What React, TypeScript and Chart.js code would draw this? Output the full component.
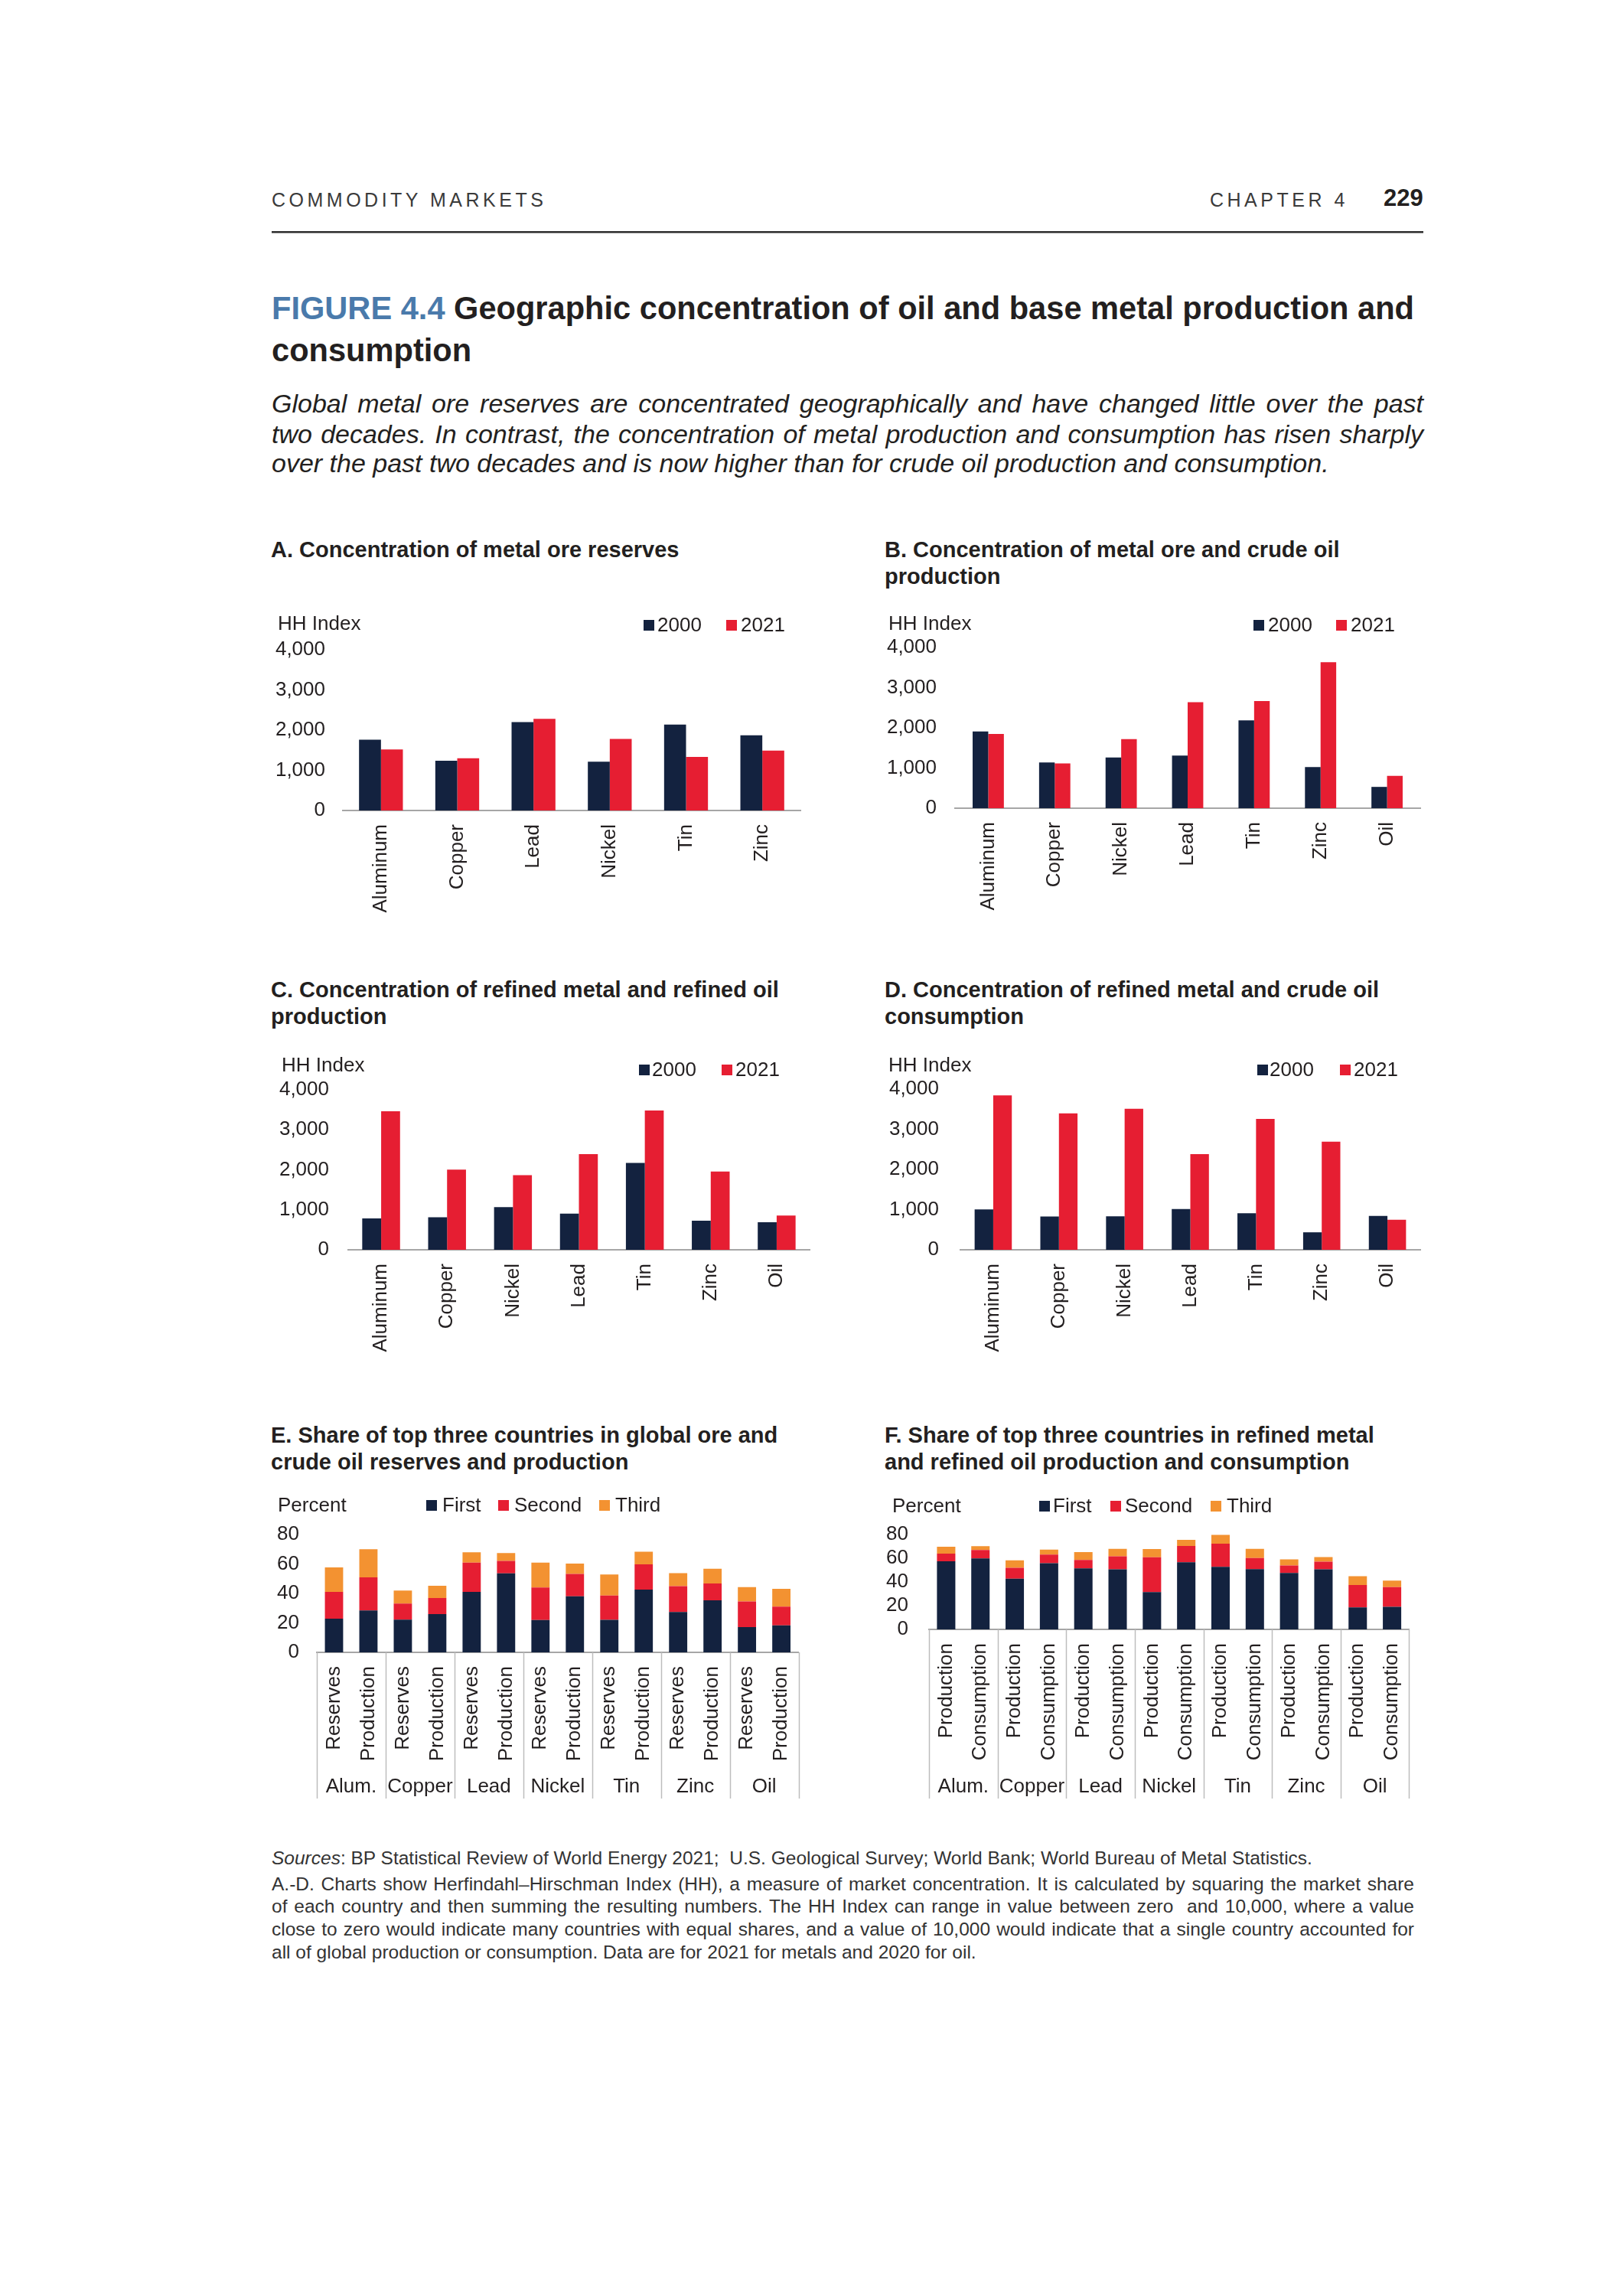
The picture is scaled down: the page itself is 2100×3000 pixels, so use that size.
import React, { useEffect, useRef } from "react";
import { Chart, registerables } from "chart.js";

Chart.register(...registerables);

const FONT = "'Liberation Sans', Arial, Helvetica, sans-serif";
const TEXT = "#231f20";
const NAVY = "#13223f";
const RED = "#e61e32";
const ORANGE = "#f39231";
const AXIS = "#a6a6a6";
const SEP = "#bdbdbd";
const BLUE = "#4a7aab";

// ---------- DATA ----------
const catsA = ["Aluminum", "Copper", "Lead", "Nickel", "Tin", "Zinc"];
const a2000 = [1760, 1240, 2200, 1215, 2140, 1870];
const a2021 = [1520, 1300, 2280, 1780, 1335, 1490];

const catsB = ["Aluminum", "Copper", "Nickel", "Lead", "Tin", "Zinc", "Oil"];
const b2000 = [1910, 1140, 1260, 1310, 2185, 1025, 530];
const b2021 = [1850, 1115, 1720, 2640, 2665, 3635, 805];

const catsC = ["Aluminum", "Copper", "Nickel", "Lead", "Tin", "Zinc", "Oil"];
const c2000 = [785, 815, 1065, 905, 2170, 725, 690];
const c2021 = [3465, 2005, 1865, 2390, 3485, 1955, 855];

const catsD = ["Aluminum", "Copper", "Nickel", "Lead", "Tin", "Zinc", "Oil"];
const d2000 = [1005, 830, 835, 1015, 910, 435, 845];
const d2021 = [3845, 3395, 3510, 2380, 3255, 2690, 750];

const hhMax = 4000;
const hhStep = 1000;
const yearSeries = ["2000", "2021"];

const groupsEF = ["Alum.", "Copper", "Lead", "Nickel", "Tin", "Zinc", "Oil"];
const subE = ["Reserves", "Production"];
const subF = ["Production", "Consumption"];

const eFirst = [22.8, 28.4, 22.2, 26.0, 41.0, 53.6, 21.9, 38.1, 22.1, 42.6, 27.4, 35.3, 17.2, 18.3];
const eSecond = [18.2, 22.5, 10.9, 10.9, 19.9, 8.5, 22.1, 15.2, 16.5, 17.2, 17.6, 11.4, 17.3, 12.7];
const eThird = [16.6, 19.1, 8.8, 8.3, 7.0, 5.3, 16.9, 7.0, 14.3, 8.5, 8.8, 10.0, 9.8, 12.1];

const fFirst = [57.5, 59.9, 42.8, 55.8, 51.5, 50.6, 31.4, 56.6, 52.8, 50.8, 47.6, 50.6, 18.6, 19.0];
const fSecond = [6.3, 7.1, 9.1, 7.3, 7.1, 11.0, 29.4, 13.7, 19.4, 9.3, 6.2, 6.5, 18.8, 16.7];
const fThird = [5.8, 3.1, 6.3, 4.1, 6.5, 6.3, 6.9, 5.2, 7.4, 7.8, 5.2, 3.9, 7.4, 5.4];

const pctMax = 80;
const pctStep = 20;
const rankSeries = ["First", "Second", "Third"];

const labelsE = groupsEF.flatMap(() => subE);
const labelsF = groupsEF.flatMap(() => subF);

// ---------- CHART HELPERS ----------
type PanelSpec = {
  left: number;
  top: number;
  width: number;
  height: number;
  yW: number;
  xH: number;
  padTop: number;
  padRight: number;
  tickPad: number;
  labels: string[];
  datasets: { label: string; data: number[]; color: string }[];
  yMax: number;
  yStep: number;
  stacked: boolean;
  catPct: number;
  barPct: number;
  groups?: string[];
  per?: number;
  sepLen?: number;
  groupOffset?: number;
};

function groupPlugin(groups: string[], per: number, sepLen: number, groupOffset: number) {
  return {
    id: "groupAxis",
    afterDraw(chart: any) {
      const { ctx, chartArea, scales } = chart;
      const xs = scales.x;
      const half = (xs.getPixelForValue(1) - xs.getPixelForValue(0)) / 2;
      ctx.save();
      ctx.strokeStyle = SEP;
      ctx.lineWidth = 1.5;
      for (let g = 0; g <= groups.length; g++) {
        const x =
          g < groups.length
            ? xs.getPixelForValue(g * per) - half
            : xs.getPixelForValue(groups.length * per - 1) + half;
        ctx.beginPath();
        ctx.moveTo(Math.round(x) + 0.5, chartArea.bottom);
        ctx.lineTo(Math.round(x) + 0.5, chartArea.bottom + sepLen);
        ctx.stroke();
      }
      ctx.fillStyle = TEXT;
      ctx.font = `26px ${FONT}`;
      ctx.textAlign = "center";
      ctx.textBaseline = "middle";
      groups.forEach((name, i) => {
        const cx = (xs.getPixelForValue(i * per) + xs.getPixelForValue(i * per + per - 1)) / 2;
        ctx.fillText(name, cx, chartArea.bottom + groupOffset);
      });
      ctx.restore();
    },
  };
}

function BarPanel({ spec }: { spec: PanelSpec }) {
  const ref = useRef<HTMLCanvasElement | null>(null);
  useEffect(() => {
    if (!ref.current) return;
    const p = spec;
    const chart = new Chart(ref.current, {
      type: "bar",
      data: {
        labels: p.labels,
        datasets: p.datasets.map((d) => ({
          label: d.label,
          data: d.data,
          backgroundColor: d.color,
          borderWidth: 0,
          categoryPercentage: p.catPct,
          barPercentage: p.barPct,
        })),
      },
      options: {
        responsive: false,
        maintainAspectRatio: false,
        animation: false,
        devicePixelRatio: 1,
        layout: { padding: { top: p.padTop, right: p.padRight, left: 0, bottom: 0 } },
        plugins: {
          legend: { display: false },
          tooltip: { enabled: false },
          title: { display: false },
        },
        scales: {
          x: {
            stacked: p.stacked,
            grid: { display: false, drawTicks: false },
            border: { display: true, color: AXIS, width: 2 },
            ticks: {
              autoSkip: false,
              minRotation: 90,
              maxRotation: 90,
              padding: 18,
              color: TEXT,
              font: { family: FONT, size: 26 },
            },
            afterFit: (s: any) => {
              s.height = p.xH;
            },
          },
          y: {
            stacked: p.stacked,
            min: 0,
            max: p.yMax,
            grid: { display: false, drawTicks: false },
            border: { display: false },
            ticks: {
              autoSkip: false,
              stepSize: p.yStep,
              padding: p.tickPad,
              color: TEXT,
              font: { family: FONT, size: 26 },
              callback: (v: any) => Number(v).toLocaleString("en-US"),
            },
            afterFit: (s: any) => {
              s.width = p.yW;
            },
          },
        },
      } as any,
      plugins: p.groups ? [groupPlugin(p.groups, p.per || 2, p.sepLen || 0, p.groupOffset || 0)] : [],
    });
    return () => chart.destroy();
  }, []);
  return (
    <canvas
      ref={ref}
      width={spec.width}
      height={spec.height}
      style={{ position: "absolute", left: spec.left, top: spec.top, width: spec.width, height: spec.height }}
    />
  );
}

// ---------- TEXT HELPERS ----------
function T(props: {
  x: number;
  y: number;
  size: number;
  children: React.ReactNode;
  bold?: boolean;
  italic?: boolean;
  color?: string;
  ls?: number;
  width?: number;
  justify?: boolean;
}) {
  const lh = props.size * 1.2;
  return (
    <div
      style={{
        position: "absolute",
        left: props.x,
        top: props.y - lh / 2,
        fontSize: props.size,
        lineHeight: `${lh}px`,
        height: lh,
        fontWeight: props.bold ? 700 : 400,
        fontStyle: props.italic ? "italic" : "normal",
        color: props.color || TEXT,
        letterSpacing: props.ls || 0,
        whiteSpace: "nowrap",
        width: props.width,
        textAlign: props.justify ? ("justify" as any) : "left",
        textAlignLast: props.justify ? ("justify" as any) : "auto",
      }}
    >
      {props.children}
    </div>
  );
}

function Sq({ x, y, color }: { x: number; y: number; color: string }) {
  return <div style={{ position: "absolute", left: x, top: y - 7, width: 14, height: 14, background: color }} />;
}

function Legend({ items, y }: { items: { sq: number; tx: number; label: string; color: string }[]; y: number }) {
  return (
    <>
      {items.map((it) => (
        <React.Fragment key={it.label}>
          <Sq x={it.sq} y={y} color={it.color} />
          <T x={it.tx} y={y} size={26}>
            {it.label}
          </T>
        </React.Fragment>
      ))}
    </>
  );
}

// ---------- PANELS ----------
const yearColors = [NAVY, RED];
const rankColors = [NAVY, RED, ORANGE];

const specA: PanelSpec = {
  left: 340, top: 804, width: 726, height: 395, yW: 108, xH: 140, padTop: 45, padRight: 20, tickPad: 23,
  labels: catsA,
  datasets: [
    { label: yearSeries[0], data: a2000, color: yearColors[0] },
    { label: yearSeries[1], data: a2021, color: yearColors[1] },
  ],
  yMax: hhMax, yStep: hhStep, stacked: false, catPct: 0.575, barPct: 1,
};

const specB: PanelSpec = {
  left: 1140, top: 801, width: 736, height: 395, yW: 108, xH: 140, padTop: 45, padRight: 20, tickPad: 24,
  labels: catsB,
  datasets: [
    { label: yearSeries[0], data: b2000, color: yearColors[0] },
    { label: yearSeries[1], data: b2021, color: yearColors[1] },
  ],
  yMax: hhMax, yStep: hhStep, stacked: false, catPct: 0.47, barPct: 1,
};

const specC: PanelSpec = {
  left: 340, top: 1379, width: 738, height: 394, yW: 115, xH: 140, padTop: 45, padRight: 20, tickPad: 25,
  labels: catsC,
  datasets: [
    { label: yearSeries[0], data: c2000, color: yearColors[0] },
    { label: yearSeries[1], data: c2021, color: yearColors[1] },
  ],
  yMax: hhMax, yStep: hhStep, stacked: false, catPct: 0.574, barPct: 1,
};

const specD: PanelSpec = {
  left: 1140, top: 1378, width: 736, height: 395, yW: 115, xH: 140, padTop: 45, padRight: 20, tickPad: 28,
  labels: catsD,
  datasets: [
    { label: yearSeries[0], data: d2000, color: yearColors[0] },
    { label: yearSeries[1], data: d2021, color: yearColors[1] },
  ],
  yMax: hhMax, yStep: hhStep, stacked: false, catPct: 0.566, barPct: 1,
};

const specE: PanelSpec = {
  left: 340, top: 1960, width: 731, height: 399, yW: 74, xH: 200, padTop: 45, padRight: 20, tickPad: 23,
  labels: labelsE,
  datasets: [
    { label: rankSeries[0], data: eFirst, color: rankColors[0] },
    { label: rankSeries[1], data: eSecond, color: rankColors[1] },
    { label: rankSeries[2], data: eThird, color: rankColors[2] },
  ],
  yMax: pctMax, yStep: pctStep, stacked: true, catPct: 1, barPct: 0.53,
  groups: groupsEF, per: 2, sepLen: 191, groupOffset: 176,
};

const specF: PanelSpec = {
  left: 1140, top: 1960, width: 729, height: 399, yW: 74, xH: 230, padTop: 45, padRight: 20, tickPad: 27,
  labels: labelsF,
  datasets: [
    { label: rankSeries[0], data: fFirst, color: rankColors[0] },
    { label: rankSeries[1], data: fSecond, color: rankColors[1] },
    { label: rankSeries[2], data: fThird, color: rankColors[2] },
  ],
  yMax: pctMax, yStep: pctStep, stacked: true, catPct: 1, barPct: 0.536,
  groups: groupsEF, per: 2, sepLen: 221, groupOffset: 206,
};

export default function App() {
  return (
    <div
      style={{
        position: "absolute",
        left: 0,
        top: 0,
        width: 2100,
        height: 3000,
        background: "#ffffff",
        fontFamily: FONT,
        color: TEXT,
        overflow: "hidden",
      }}
    >
      {/* charts (below text) */}
      <BarPanel spec={specA} />
      <BarPanel spec={specB} />
      <BarPanel spec={specC} />
      <BarPanel spec={specD} />
      <BarPanel spec={specE} />
      <BarPanel spec={specF} />

      {/* running header */}
      <T x={355} y={261} size={25} ls={4.5} color="#3a3a3a">COMMODITY MARKETS</T>
      <T x={1581} y={261} size={25} ls={4.5} color="#3a3a3a">CHAPTER 4</T>
      <T x={1808} y={259} size={31} bold>229</T>
      <div style={{ position: "absolute", left: 355, top: 302, width: 1505, height: 2, background: "#2b2b2b" }} />
      <div style={{ position: "absolute", left: 355, top: 304, width: 1505, height: 1, background: "#9a9a9a" }} />

      {/* figure title */}
      <T x={355} y={403} size={41.6} bold>
        <span style={{ color: BLUE }}>FIGURE 4.4</span> Geographic concentration of oil and base metal production and
      </T>
      <T x={355} y={458} size={41.6} bold>consumption</T>

      {/* subtitle */}
      <T x={355} y={527} size={34} italic width={1505} justify>
        Global metal ore reserves are concentrated geographically and have changed little over the past
      </T>
      <T x={355} y={567} size={34} italic width={1505} justify>
        two decades. In contrast, the concentration of metal production and consumption has risen sharply
      </T>
      <T x={355} y={605} size={34} italic>
        over the past two decades and is now higher than for crude oil production and consumption.
      </T>

      {/* panel A */}
      <T x={354} y={718} size={29} bold>A. Concentration of metal ore reserves</T>
      <T x={363} y={815} size={26}>HH Index</T>
      <Legend
        y={817}
        items={[
          { sq: 841, tx: 859, label: yearSeries[0], color: yearColors[0] },
          { sq: 949, tx: 968, label: yearSeries[1], color: yearColors[1] },
        ]}
      />

      {/* panel B */}
      <T x={1156} y={718} size={29} bold>B. Concentration of metal ore and crude oil</T>
      <T x={1156} y={753} size={29} bold>production</T>
      <T x={1161} y={815} size={26}>HH Index</T>
      <Legend
        y={817}
        items={[
          { sq: 1638, tx: 1657, label: yearSeries[0], color: yearColors[0] },
          { sq: 1746, tx: 1765, label: yearSeries[1], color: yearColors[1] },
        ]}
      />

      {/* panel C */}
      <T x={354} y={1293} size={29} bold>C. Concentration of refined metal and refined oil</T>
      <T x={354} y={1328} size={29} bold>production</T>
      <T x={368} y={1392} size={26}>HH Index</T>
      <Legend
        y={1398}
        items={[
          { sq: 835, tx: 852, label: yearSeries[0], color: yearColors[0] },
          { sq: 943, tx: 961, label: yearSeries[1], color: yearColors[1] },
        ]}
      />

      {/* panel D */}
      <T x={1156} y={1293} size={29} bold>D. Concentration of refined metal and crude oil</T>
      <T x={1156} y={1328} size={29} bold>consumption</T>
      <T x={1161} y={1392} size={26}>HH Index</T>
      <Legend
        y={1398}
        items={[
          { sq: 1643, tx: 1659, label: yearSeries[0], color: yearColors[0] },
          { sq: 1751, tx: 1769, label: yearSeries[1], color: yearColors[1] },
        ]}
      />

      {/* panel E */}
      <T x={354} y={1875} size={29} bold>E. Share of top three countries in global ore and</T>
      <T x={354} y={1910} size={29} bold>crude oil reserves and production</T>
      <T x={363} y={1967} size={26}>Percent</T>
      <Legend
        y={1967}
        items={[
          { sq: 557, tx: 578, label: rankSeries[0], color: rankColors[0] },
          { sq: 651, tx: 672, label: rankSeries[1], color: rankColors[1] },
          { sq: 783, tx: 804, label: rankSeries[2], color: rankColors[2] },
        ]}
      />

      {/* panel F */}
      <T x={1156} y={1875} size={29} bold>F. Share of top three countries in refined metal</T>
      <T x={1156} y={1910} size={29} bold>and refined oil production and consumption</T>
      <T x={1166} y={1968} size={26}>Percent</T>
      <Legend
        y={1968}
        items={[
          { sq: 1358, tx: 1376, label: rankSeries[0], color: rankColors[0] },
          { sq: 1451, tx: 1470, label: rankSeries[1], color: rankColors[1] },
          { sq: 1582, tx: 1603, label: rankSeries[2], color: rankColors[2] },
        ]}
      />

      {/* footnotes */}
      <T x={355} y={2428} size={24.5} color="#333333">
        <i>Sources</i>: BP Statistical Review of World Energy 2021;&nbsp; U.S. Geological Survey; World Bank; World Bureau of Metal Statistics.
      </T>
      <T x={355} y={2462} size={24.5} color="#333333" width={1493} justify>
        A.-D. Charts show Herfindahl–Hirschman Index (HH), a measure of market concentration. It is calculated by squaring the market share
      </T>
      <T x={355} y={2491} size={24.5} color="#333333" width={1493} justify>
        of each country and then summing the resulting numbers. The HH Index can range in value between zero&nbsp; and 10,000, where a value
      </T>
      <T x={355} y={2521} size={24.5} color="#333333" width={1493} justify>
        close to zero would indicate many countries with equal shares, and a value of 10,000 would indicate that a single country accounted for
      </T>
      <T x={355} y={2551} size={24.5} color="#333333">
        all of global production or consumption. Data are for 2021 for metals and 2020 for oil.
      </T>
    </div>
  );
}
